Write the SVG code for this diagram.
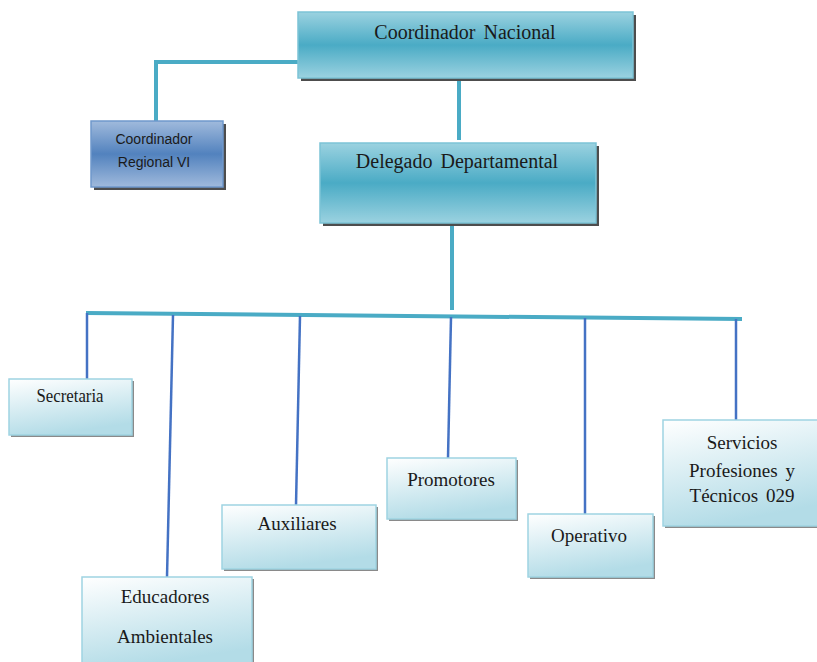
<svg xmlns="http://www.w3.org/2000/svg" width="817" height="662" viewBox="0 0 817 662">
<defs>
<linearGradient id="gTeal" x1="0" y1="0" x2="0" y2="1">
<stop offset="0" stop-color="#9bd2e0"/>
<stop offset="0.5" stop-color="#4aabc5"/>
<stop offset="1" stop-color="#9bd2e0"/>
</linearGradient>
<linearGradient id="gBlue" x1="0" y1="0" x2="0" y2="1">
<stop offset="0" stop-color="#a0badc"/>
<stop offset="0.5" stop-color="#5282be"/>
<stop offset="1" stop-color="#a0badc"/>
</linearGradient>
<linearGradient id="gLight" x1="0" y1="0" x2="0.3" y2="1">
<stop offset="0" stop-color="#ffffff"/>
<stop offset="1" stop-color="#b3dce7"/>
</linearGradient>
</defs>
<style>
.top{fill:url(#gTeal);stroke:#7cc3d6;stroke-width:1.5}
.reg{fill:url(#gBlue);stroke:#6f98cc;stroke-width:1.5}
.low{fill:url(#gLight);stroke:#9fd4e2;stroke-width:1.5}
.shd{fill:#4d4d4d}
.shl{fill:#8a8a8a}
.tt{font-family:"Liberation Serif","Times New Roman",serif;font-size:20px;fill:#1a1a1a;text-anchor:middle;word-spacing:3px}
.tl{font-family:"Liberation Serif","Times New Roman",serif;font-size:19px;fill:#1a1a1a;text-anchor:middle;word-spacing:3px}
.ts{font-family:"Liberation Sans",Arial,sans-serif;font-size:14px;fill:#1a1a1a;text-anchor:middle}
.ct{stroke:#4aabc5;fill:none;stroke-width:4}
.cb{stroke:#4472c4;fill:none;stroke-width:2.5}
</style>
<g id="connectors">
<polyline class="ct" points="298,62 156,62 156,121"/>
<line class="ct" x1="459" y1="80" x2="459" y2="140"/>
<line class="ct" x1="452" y1="223" x2="452" y2="310" stroke-width="5"/>
<line class="ct" x1="86" y1="313" x2="742" y2="319" stroke-width="6"/>
<line class="cb" x1="87" y1="313" x2="87" y2="379"/>
<line class="cb" x1="173" y1="315" x2="167" y2="577"/>
<line class="cb" x1="300" y1="316" x2="296" y2="505"/>
<line class="cb" x1="451" y1="317" x2="448" y2="458"/>
<line class="cb" x1="585" y1="318" x2="585" y2="514"/>
<line class="cb" x1="736" y1="319" x2="736" y2="420"/>
</g>
<g id="coordinador-nacional">
<rect class="shd" x="301" y="15" width="335" height="66"/>
<rect class="top" x="298" y="12" width="335" height="66"/>
<text class="tt" x="465" y="39">Coordinador Nacional</text>
</g>
<g id="coordinador-regional">
<rect class="shd" x="94" y="124" width="132" height="66"/>
<rect class="reg" x="91" y="121" width="132" height="66"/>
<text class="ts" x="154" y="144">Coordinador</text>
<text class="ts" x="154" y="167">Regional VI</text>
</g>
<g id="delegado-departamental">
<rect class="shd" x="323" y="146" width="276" height="80"/>
<rect class="top" x="320" y="143" width="276" height="80"/>
<text class="tt" x="457" y="168">Delegado Departamental</text>
</g>
<g id="secretaria">
<rect class="shl" x="11" y="381" width="123" height="56"/>
<rect class="low" x="9" y="379" width="123" height="56"/>
<text class="tl" x="70" y="402" font-size="17" textLength="67" lengthAdjust="spacingAndGlyphs">Secretaria</text>
</g>
<g id="educadores">
<rect class="shl" x="84" y="579" width="170" height="90"/>
<rect class="low" x="82" y="577" width="170" height="90"/>
<text class="tl" x="165" y="603">Educadores</text>
<text class="tl" x="165" y="643">Ambientales</text>
</g>
<g id="auxiliares">
<rect class="shl" x="224" y="507" width="154" height="64"/>
<rect class="low" x="222" y="505" width="154" height="64"/>
<text class="tl" x="297" y="530">Auxiliares</text>
</g>
<g id="promotores">
<rect class="shl" x="389" y="460" width="129" height="61"/>
<rect class="low" x="387" y="458" width="129" height="61"/>
<text class="tl" x="451" y="486">Promotores</text>
</g>
<g id="operativo">
<rect class="shl" x="530" y="516" width="125" height="63"/>
<rect class="low" x="528" y="514" width="125" height="63"/>
<text class="tl" x="589" y="542">Operativo</text>
</g>
<g id="servicios">
<rect class="shl" x="665" y="422" width="160" height="106"/>
<rect class="low" x="663" y="420" width="160" height="106"/>
<text class="tl" x="742" y="449">Servicios</text>
<text class="tl" x="742" y="477">Profesiones y</text>
<text class="tl" x="742" y="502">Técnicos 029</text>
</g>
</svg>
